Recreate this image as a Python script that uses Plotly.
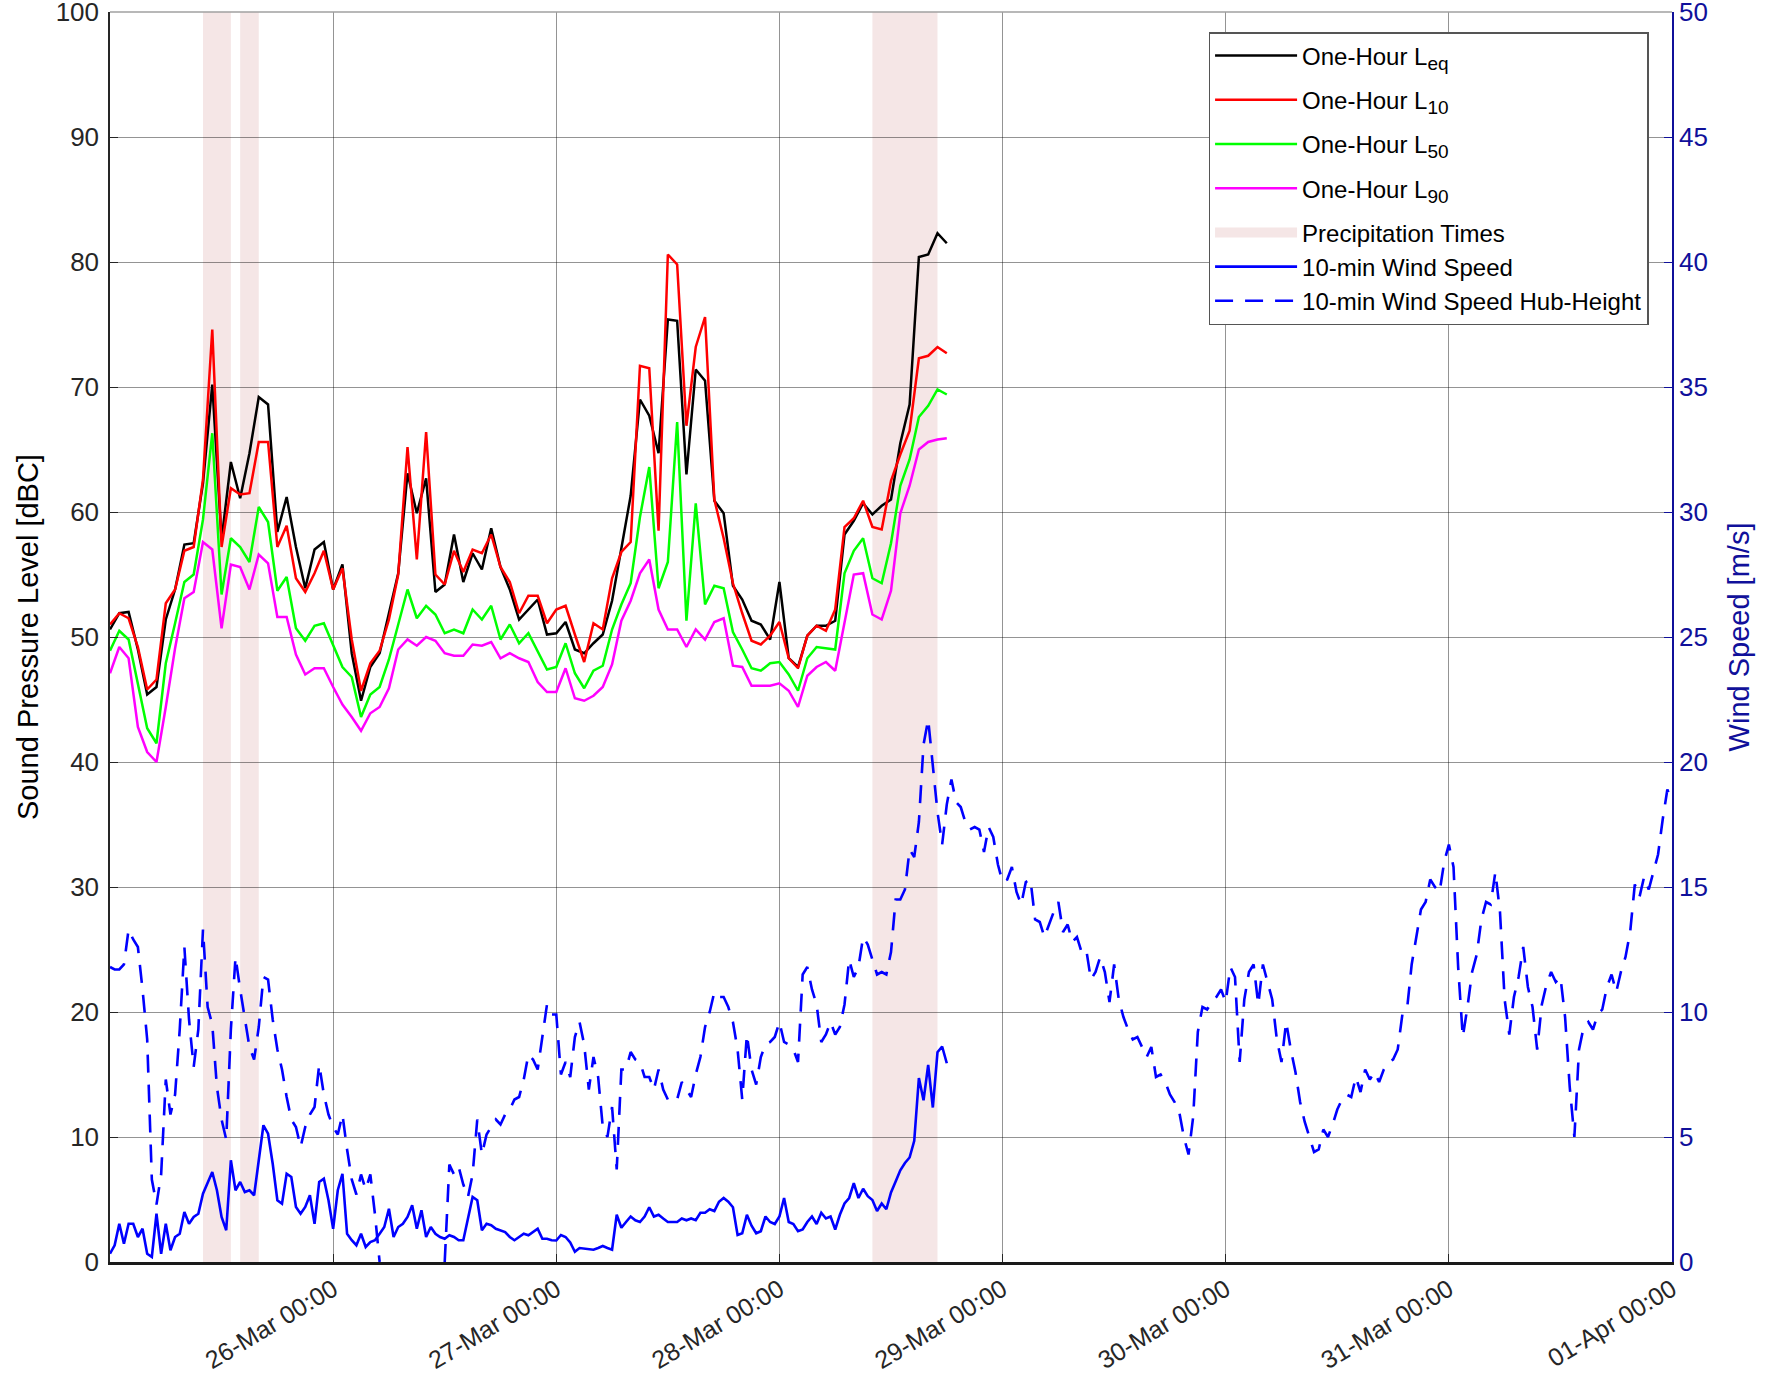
import pandas as pd
import plotly.graph_objects as go

# hourly sound levels, 25-Mar 00:00 .. 28-Mar 18:00
LEQ = [
    50.6, 51.9, 52.0, 49.0, 45.4, 46.0, 51.4, 53.8, 57.4, 57.5,
    62.3, 70.2, 57.8, 64.0, 61.1, 64.7, 69.2, 68.6, 58.4, 61.2,
    57.2, 53.9, 57.0, 57.6, 53.8, 55.8, 48.7, 44.9, 47.6, 48.7,
    51.9, 55.1, 63.1, 59.9, 62.7, 53.6, 54.2, 58.2, 54.4, 56.7,
    55.4, 58.7, 55.6, 53.8, 51.4, 52.2, 53.0, 50.2, 50.3, 51.2,
    49.0, 48.7, 49.5, 50.2, 52.9, 57.1, 61.3, 69.0, 67.7, 64.7,
    75.4, 75.3, 63.0, 71.4, 70.5, 60.9, 59.9, 54.1, 53.0, 51.3,
    51.0, 49.8, 54.4, 48.3, 47.6, 50.1, 50.9, 50.9, 51.3, 58.2,
    59.3, 60.7, 59.8, 60.5, 61.0, 65.5, 68.6, 80.4, 80.6, 82.3, 81.5,
]
L10 = [
    51.0, 51.9, 51.5, 49.2, 45.8, 46.6, 52.7, 53.8, 56.9, 57.2,
    62.6, 74.6, 57.2, 61.9, 61.4, 61.5, 65.6, 65.6, 57.2, 58.9,
    54.7, 53.6, 55.1, 56.9, 53.8, 55.5, 49.8, 45.7, 47.9, 48.9,
    51.4, 55.0, 65.2, 56.2, 66.4, 55.0, 54.2, 56.9, 55.2, 57.0,
    56.7, 58.2, 55.6, 54.4, 51.9, 53.3, 53.3, 51.1, 52.2, 52.5,
    50.2, 48.0, 51.1, 50.6, 54.7, 56.8, 57.6, 71.7, 71.5, 58.5,
    80.6, 79.8, 66.9, 73.2, 75.6, 61.0, 57.9, 54.3, 51.9, 49.7,
    49.4, 50.1, 51.2, 48.3, 47.5, 50.1, 50.9, 50.5, 52.2, 58.8,
    59.5, 60.9, 58.8, 58.6, 62.5, 64.6, 66.5, 72.3, 72.5, 73.2, 72.7,
]
L50 = [
    48.9, 50.5, 49.8, 46.3, 42.7, 41.5, 47.9, 51.1, 54.4, 55.0,
    59.4, 66.3, 53.4, 57.9, 57.2, 56.0, 60.4, 59.2, 53.7, 54.8,
    50.7, 49.7, 50.9, 51.1, 49.3, 47.6, 46.8, 43.6, 45.4, 46.0,
    48.2, 51.0, 53.8, 51.5, 52.5, 51.8, 50.3, 50.6, 50.3, 52.2,
    51.4, 52.5, 49.8, 51.0, 49.5, 50.3, 48.9, 47.4, 47.6, 49.5,
    47.1, 45.9, 47.3, 47.7, 50.6, 52.6, 54.3, 59.6, 63.6, 53.9,
    56.0, 67.2, 51.3, 60.7, 52.6, 54.1, 53.9, 50.4, 49.0, 47.5,
    47.3, 47.9, 48.0, 47.0, 45.7, 48.3, 49.2, 49.1, 49.0, 55.1,
    56.9, 57.9, 54.7, 54.3, 57.5, 62.1, 64.2, 67.6, 68.5, 69.8, 69.4,
]
L90 = [
    47.1, 49.2, 48.3, 42.8, 40.8, 40.0, 44.4, 49.1, 53.1, 53.6,
    57.6, 57.0, 50.7, 55.8, 55.6, 53.8, 56.6, 55.9, 51.6, 51.6,
    48.6, 47.0, 47.5, 47.5, 46.0, 44.6, 43.6, 42.5, 43.9, 44.4,
    45.9, 49.0, 49.8, 49.3, 50.0, 49.7, 48.7, 48.5, 48.5, 49.4,
    49.3, 49.6, 48.3, 48.7, 48.3, 48.0, 46.4, 45.6, 45.6, 47.5,
    45.1, 44.9, 45.3, 46.0, 47.8, 51.3, 52.9, 55.1, 56.2, 52.2,
    50.6, 50.6, 49.2, 50.6, 49.8, 51.2, 51.5, 47.7, 47.6, 46.1,
    46.1, 46.1, 46.3, 45.7, 44.4, 46.9, 47.6, 48.0, 47.3, 51.2,
    55.0, 55.1, 51.8, 51.4, 53.7, 59.9, 62.1, 65.0, 65.6, 65.8, 65.9,
]

# wind speed [m/s], every 30 min from 25-Mar 00:00
WIND = [
    0.33, 0.67, 1.53, 0.73, 1.53, 1.53, 1.0, 1.33, 0.33, 0.2,
    1.93, 0.33, 1.53, 0.47, 1.0, 1.13, 2.0, 1.53, 1.8, 1.93,
    2.73, 3.13, 3.6, 2.87, 1.8, 1.27, 4.07, 2.87, 3.2, 2.8,
    2.87, 2.67, 4.07, 5.47, 5.13, 3.93, 2.47, 2.33, 3.53, 3.4,
    2.2, 1.93, 2.2, 2.67, 1.53, 3.2, 3.33, 2.47, 1.33, 2.87,
    3.53, 1.13, 0.87, 0.67, 1.13, 0.6, 0.8, 0.87, 1.13, 1.4,
    2.13, 1.0, 1.4, 1.53, 1.8, 2.27, 1.33, 2.07, 1.0, 1.4,
    1.13, 1.0, 0.93, 1.07, 1.0, 0.87, 0.87, 1.8, 2.6, 2.47,
    1.27, 1.53, 1.47, 1.33, 1.27, 1.2, 1.0, 0.87, 1.0, 1.13,
    1.07, 1.2, 1.33, 0.93, 0.93, 0.87,
    0.86, 1.08, 1.0, 0.78, 0.41, 0.56, 0.53, 0.49, 0.49, 0.56,
    0.64, 0.56, 0.49, 1.89, 1.37, 1.6, 1.82, 1.67, 1.6, 1.82,
    2.19, 1.82, 1.89, 1.74, 1.6, 1.6, 1.6, 1.74, 1.67, 1.74,
    1.67, 1.97, 1.97, 2.11, 2.04, 2.41, 2.56, 2.41, 2.19, 1.08,
    1.15, 1.89, 1.45, 1.15, 1.23, 1.82, 1.6, 1.52, 1.82, 2.56,
    1.6, 1.52, 1.23, 1.3, 1.6, 1.82, 1.52, 1.97, 1.74, 1.82,
    1.3, 1.89, 2.34, 2.56, 3.15, 2.56, 2.93, 2.63, 2.48, 2.04,
    2.34, 2.11, 2.78, 3.22, 3.67, 3.96, 4.18, 4.85, 7.36, 6.47,
    7.88, 6.18, 8.39, 8.62, 7.95,
]

# hub-height wind speed [m/s], every 30 min from 25-Mar 00:00 to 01-Apr 00:00
WIND_HUB = [
    11.8, 11.7, 11.7, 11.9, 13.3, 12.9, 12.6, 10.9, 8.9, 3.3,
    2.3, 3.5, 7.3, 5.9, 6.7, 9.3, 12.6, 9.7, 7.8, 9.3,
    13.3, 10.2, 9.5, 7.0, 5.7, 4.9, 9.3, 12.2, 10.9, 9.7,
    8.6, 8.1, 9.4, 11.4, 11.3, 9.7, 8.5, 7.7, 6.6, 5.7,
    5.4, 4.6, 5.4, 5.9, 6.2, 7.9, 6.7, 5.9, 5.4, 5.1,
    5.9, 4.5, 3.3, 2.7, 3.5, 2.9, 3.5, 1.9, 0.0, None,
    None, None, None, None, None, None, None, None, None, None,
    None, None, 0.0, 3.9, 3.5, 3.8, 3.1, 2.6, 3.5, 5.7,
    4.3, 5.1, 5.4, 5.7, 5.5, 5.9, 6.1, 6.5, 6.6, 7.3,
    8.3, 8.1, 7.7, 9.1, 10.3, 9.9,
    9.9, 7.5, 8.0, 7.4, 9.0, 9.6, 8.7, 6.9, 8.2, 7.4,
    5.4, 5.0, 6.2, 3.7, 7.7, 7.7, 8.4, 8.1, 8.0, 7.4,
    7.4, 6.9, 7.7, 6.9, 6.5, 6.4, 6.5, 7.2, 6.9, 6.6,
    7.5, 8.2, 9.4, 10.0, 10.8, 10.6, 10.6, 10.2, 9.6, 8.5,
    6.5, 9.1, 7.7, 7.1, 8.2, 8.7, 8.8, 9.0, 9.6, 8.8,
    8.7, 8.5, 8.0, 11.5, 11.8, 10.9, 10.3, 8.8, 9.1, 9.6,
    9.1, 9.4, 10.3, 12.1, 11.4, 11.8, 13.0, 12.7, 12.1, 11.5,
    11.6, 11.5, 12.4, 14.5, 14.5, 14.9, 16.5, 16.2, 17.6, 20.7,
    21.7, 19.8, 18.0, 16.7, 18.3, 19.3, 18.4, 18.2, 17.6, 17.3,
    17.4, 17.3, 16.4, 17.4, 17.0, 15.9, 15.2, 15.3, 15.8, 14.8,
    14.3, 15.2, 15.3, 13.7, 13.6, 13.0,
    13.5, 14.0, 14.4, 13.2, 13.5, 12.8, 13.0, 12.4, 12.5, 11.3,
    11.6, 12.2, 11.6, 10.4, 11.9, 10.5, 9.8, 9.3, 8.9, 9.0,
    8.6, 8.2, 8.6, 7.4, 7.5, 7.2, 6.7, 6.4, 6.0, 5.0,
    4.3, 5.8, 9.2, 10.2, 10.1, 10.4, 10.6, 10.9, 10.4, 11.8,
    11.4, 8.0, 10.5, 11.6, 11.9, 10.3, 11.9, 11.2, 10.5, 8.9,
    8.0, 9.6, 8.5, 7.6, 6.4, 5.6, 5.0, 4.4, 4.5, 5.3,
    5.0, 5.5, 6.1, 6.5, 6.7, 6.6, 7.4, 6.8, 7.7, 7.3,
    7.6, 7.2, 7.7, 8.0, 8.1, 8.5, 9.9, 10.1, 11.9, 13.0,
    14.1, 14.4, 15.3, 15.0, 14.8, 16.0, 16.7, 15.8, 11.8, 9.0,
    10.2, 11.6, 12.3, 13.7, 14.4, 14.3, 15.6, 14.0, 10.5, 9.1,
    10.6, 11.4, 12.6, 11.0, 10.2, 8.5, 10.3, 11.1, 11.6, 11.2,
    11.4, 9.8, 7.0, 5.0, 8.5, 9.4, 9.6, 9.3, 9.9, 10.1,
    11.0, 11.5, 10.8, 11.6, 12.2, 13.2, 15.1, 14.6, 15.4, 14.9,
    15.6, 16.3, 17.7, 18.9, 18.4,
]

RAIN_START = ["2019-03-25 10:00", "2019-03-25 14:00", "2019-03-28 10:00"]
RAIN_END = ["2019-03-25 13:00", "2019-03-25 16:00", "2019-03-28 17:00"]

DAY_TICKS = pd.date_range("2019-03-26", "2019-04-01", freq="D")

t_hour = pd.date_range("2019-03-25", periods=len(LEQ), freq="h")
t_wind = pd.date_range("2019-03-25", periods=len(WIND), freq="30min")
t_hub = pd.date_range("2019-03-25", periods=len(WIND_HUB), freq="30min")

FONT = "Liberation Sans, Arial, sans-serif"
TXT = "#262626"
NAVY = "#10109a"
GRID = "rgba(0,0,0,0.42)"
RAIN = "#f5e6e6"


def sub(s):
    return f"<sub><span style='font-size:19px'>{s}</span></sub>"


fig = go.Figure()

for name, vals, color, grp in [
    ("One-Hour L" + sub("eq"), LEQ, "#000000", "a"),
    ("One-Hour L" + sub("10"), L10, "#ff0000", "b"),
    ("One-Hour L" + sub("50"), L50, "#00ff00", "c"),
    ("One-Hour L" + sub("90"), L90, "#ff00ff", "d"),
]:
    fig.add_trace(
        go.Scatter(x=t_hour, y=vals, mode="lines", name=name, legendgroup=grp,
                   line=dict(color=color, width=2.5))
    )

# legend entry for the precipitation shading (thick line gives the patch look)
fig.add_trace(
    go.Scatter(x=[None], y=[None], mode="lines", legendgroup="e",
               line=dict(color=RAIN, width=22), name="Precipitation Times")
)

fig.add_trace(
    go.Scatter(x=t_wind, y=WIND, mode="lines", name="10-min Wind Speed",
               legendgroup="e", yaxis="y2", line=dict(color="#0000ff", width=2.6))
)
fig.add_trace(
    go.Scatter(x=t_hub, y=WIND_HUB, mode="lines", legendgroup="e",
               name="10-min Wind Speed Hub-Height", yaxis="y2",
               line=dict(color="#0000ff", width=2.6, dash="18px,12px"))
)

for s, e in zip(RAIN_START, RAIN_END):
    fig.add_vrect(x0=s, x1=e, fillcolor=RAIN, opacity=1, line_width=0, layer="below")

# light top frame line (MATLAB box)
fig.add_shape(type="line", xref="paper", yref="paper", x0=0, x1=1, y0=1, y1=1,
              line=dict(color="#a0a0a0", width=1.5))

# left axis title as an annotation so it can sit where the original has it
fig.add_annotation(
    text="Sound Pressure Level [dBC]", textangle=-90,
    xref="paper", yref="paper", x=-0.0525, y=0.5,
    xanchor="center", yanchor="middle", showarrow=False,
    font=dict(family=FONT, size=29, color="#000000"),
)

fig.update_layout(
    width=1775,
    height=1388,
    margin=dict(l=110, r=103, t=12, b=126),
    paper_bgcolor="white",
    plot_bgcolor="white",
    font=dict(family=FONT, size=25, color=TXT),
    showlegend=True,
    legend=dict(
        x=0.985, y=0.984, xanchor="right", yanchor="top",
        bgcolor="white", bordercolor="#555555", borderwidth=1.5,
        font=dict(family=FONT, size=24, color="#000000"),
        itemwidth=82, tracegroupgap=10,
    ),
    xaxis=dict(
        range=["2019-03-25", "2019-04-01"],
        tickvals=DAY_TICKS,
        tickformat="%d-%b %H:%M",
        tickangle=-31,
        ticks="inside", ticklen=8, tickcolor=TXT,
        showgrid=True, gridcolor=GRID, gridwidth=1,
        showline=True, linecolor="#1a1a1a", linewidth=3, mirror=False,
        zeroline=False,
        ticklabeloverflow="allow",
        tickfont=dict(size=25, color=TXT),
    ),
    yaxis=dict(
        range=[0, 100], dtick=10,
        ticks="inside", ticklen=8, tickcolor=TXT,
        showgrid=True, gridcolor=GRID, gridwidth=1,
        showline=True, linecolor=TXT, linewidth=1.5,
        zeroline=False,
        ticklabeloverflow="allow", ticklabelstandoff=4,
        tickfont=dict(size=26, color=TXT),
        automargin=False,
    ),
    yaxis2=dict(
        overlaying="y", side="right",
        range=[0, 50], dtick=5,
        ticks="inside", ticklen=8, tickcolor=NAVY,
        showgrid=False, zeroline=False,
        showline=True, linecolor=NAVY, linewidth=1.5,
        ticklabeloverflow="allow",
        tickfont=dict(size=26, color=NAVY),
        title=dict(text="Wind Speed [m/s]", font=dict(size=29, color=NAVY), standoff=22),
        automargin=False,
    ),
)

# drop the default page margin so the figure fills the window exactly
fig.write_html("out.html", config={"displayModeBar": False},
               post_script="document.body.style.margin='0px';")
